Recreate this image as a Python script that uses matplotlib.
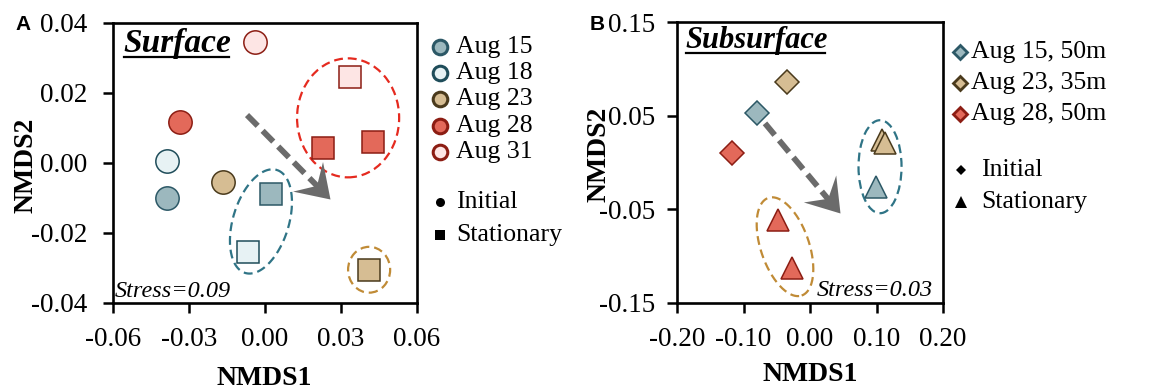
import numpy as np
import matplotlib
matplotlib.use("Agg")
import matplotlib.pyplot as plt
from matplotlib.patches import Ellipse
from matplotlib.lines import Line2D
from matplotlib.path import Path
from matplotlib.markers import MarkerStyle
from matplotlib.transforms import Affine2D

plt.rcParams['font.family'] = ['Liberation Serif', 'DejaVu Serif']
plt.rcParams['axes.unicode_minus'] = False

# ---------------- data ----------------
# Panel A: surface communities
surf_dates = ["Aug 15", "Aug 18", "Aug 23", "Aug 28", "Aug 31"]
surf_init_x = [-0.0387, -0.0387, -0.0166, -0.0336, -0.0040]
surf_init_y = [-0.0100, 0.0006, -0.0054, 0.0117, 0.0346]
# stationary samples (date index, x, y)
surf_stat_date = [0, 1, 2, 3, 3, 4]
surf_stat_x = [0.0024, -0.0067, 0.0411, 0.0229, 0.0426, 0.0336]
surf_stat_y = [-0.0089, -0.0254, -0.0305, 0.0043, 0.0060, 0.0246]

# Panel B: subsurface communities
sub_dates = ["Aug 15, 50m", "Aug 23, 35m", "Aug 28, 50m"]
sub_init_x = [-0.080, -0.035, -0.118]
sub_init_y = [0.0525, 0.0863, 0.0098]
sub_stat_date = [0, 1, 1, 2, 2]
sub_stat_x = [0.0993, 0.1078, 0.1130, -0.0486, -0.0270]
sub_stat_y = [-0.0260, 0.0240, 0.0210, -0.0610, -0.1130]

surf_ticks_x = [-0.06, -0.03, 0.00, 0.03, 0.06]
surf_ticks_y = [-0.04, -0.02, 0.00, 0.02, 0.04]
sub_ticks_x = [-0.20, -0.10, 0.00, 0.10, 0.20]
sub_ticks_y = [-0.15, -0.05, 0.05, 0.15]

surf_stress = 0.09
sub_stress = 0.03

# ---------------- styles ----------------
fills = {"Aug 15": "#9cb8be", "Aug 18": "#e7f2f4", "Aug 23": "#d6bd93",
         "Aug 28": "#e3695a", "Aug 31": "#fde5e4"}
edges = {"Aug 15": "#2c5866", "Aug 18": "#1f4d5a", "Aug 23": "#4a3a1c",
         "Aug 28": "#8c1d13", "Aug 31": "#8c1d13"}
sub_keys = ["Aug 15", "Aug 23", "Aug 28"]
BLUE_RING = "#2f7486"
RED_RING = "#e52a1f"
TAN_RING = "#c08b36"
ARROW = "#6b6b6b"

W, H = 1163, 390
fig = plt.figure(figsize=(W / 100, H / 100), dpi=100)


def fx(px):
    return px / W


def fy(py):
    return 1 - py / H


axA = fig.add_axes([fx(113), fy(303), fx(417) - fx(113), fy(23) - fy(303)])
axB = fig.add_axes([fx(677), fy(303), fx(943) - fx(677), fy(22) - fy(303)])


def style_axes(ax, xt, yt, ypad):
    ax.set_xlim(xt[0], xt[-1])
    ax.set_ylim(yt[0], yt[-1])
    ax.set_xticks(xt)
    ax.set_yticks(yt)
    ax.set_xticklabels(["%.2f" % v for v in xt])
    ax.set_yticklabels(["%.2f" % v for v in yt])
    ax.tick_params(labelsize=19.5, length=7, width=1.8, direction='out')
    ax.tick_params(axis='x', pad=10.5)
    ax.tick_params(axis='y', pad=ypad)
    for s in ax.spines.values():
        s.set_linewidth(1.9)
    ax.set_xlabel("NMDS1", fontsize=20, fontweight='bold')
    ax.set_ylabel("NMDS2", fontsize=20, fontweight='bold', va='center')


style_axes(axA, surf_ticks_x, surf_ticks_y, 11.5)
style_axes(axB, sub_ticks_x, sub_ticks_y, 9)
axA.xaxis.set_label_coords(0.497, -0.225)
axA.yaxis.set_label_coords(-0.285, 0.49)
axB.xaxis.set_label_coords(0.5, -0.21)
axB.yaxis.set_label_coords(-0.292, 0.53)


def param_ellipse(ax, c, u, v, color):
    t = np.linspace(0, 2 * np.pi, 200)
    xs = c[0] + u[0] * np.cos(t) + v[0] * np.sin(t)
    ys = c[1] + u[1] * np.cos(t) + v[1] * np.sin(t)
    ax.plot(xs, ys, color=color, lw=1.6, ls=(0, (4, 2.2)), zorder=1)


# ---- panel A ----
axA.add_patch(Ellipse((0.0328, 0.0129), 0.0403, 0.034, fill=False,
                      ec=RED_RING, lw=1.6, ls=(0, (4, 2.2)), zorder=1))
axA.add_patch(Ellipse((0.0411, -0.0305), 0.0166, 0.0131, fill=False,
                      ec=TAN_RING, lw=1.6, ls=(0, (4, 2.2)), zorder=1))
param_ellipse(axA, (-0.0016, -0.0167), (0.0063, 0.0147), (0.0105, -0.0024), BLUE_RING)

for d, x, y in zip(surf_dates, surf_init_x, surf_init_y):
    axA.plot(x, y, 'o', ms=16.8, mfc=fills[d], mec=edges[d], mew=1.1, zorder=3)
for i, x, y in zip(surf_stat_date, surf_stat_x, surf_stat_y):
    d = surf_dates[i]
    axA.plot(x, y, 's', ms=16.5, mfc=fills[d], mec=edges[d], mew=1.1, zorder=3)

# ---- panel B ----
axB.add_patch(Ellipse((0.1053, -0.0045), 0.0647, 0.0993, fill=False,
                      ec=BLUE_RING, lw=1.6, ls=(0, (4, 2.2)), zorder=1))
param_ellipse(axB, (-0.0376, -0.0899), (0.0251, -0.0521), (0.0344, 0.0083), TAN_RING)

for k, x, y in zip(sub_keys, sub_init_x, sub_init_y):
    axB.plot(x, y, 'D', ms=12.5, mfc=fills[k], mec=edges[k], mew=1.1, zorder=3)
for i, x, y in zip(sub_stat_date, sub_stat_x, sub_stat_y):
    k = sub_keys[i]
    axB.plot(x, y, '^', ms=16, mfc=fills[k], mec=edges[k], mew=1.1, zorder=3)


# ---- dashed trajectory arrows ----
HEAD = Path([(0, 0), (-1.0, 0.66), (-0.6, 0), (-1.0, -0.66), (0, 0)],
            [Path.MOVETO, Path.LINETO, Path.LINETO, Path.LINETO, Path.CLOSEPOLY])


def dashed_arrow(ax, start, end):
    p0 = ax.transData.transform(start)
    p1 = ax.transData.transform(end)
    ang = np.degrees(np.arctan2(p1[1] - p0[1], p1[0] - p0[0]))
    L = np.hypot(*(p1 - p0))
    # stop the shaft at the notch of the head
    frac = (L - 16) / L
    stop = ax.transData.inverted().transform(p0 + (p1 - p0) * frac)
    ax.plot([start[0], stop[0]], [start[1], stop[1]], color=ARROW, lw=4.2,
            ls=(0, (2.6, 1.2)), solid_capstyle='butt', dash_capstyle='butt', zorder=2)
    mk = MarkerStyle(HEAD, transform=Affine2D().rotate_deg(ang))
    ax.plot(end[0], end[1], marker=mk, ms=46, color=ARROW, mew=0, zorder=2)


dashed_arrow(axA, (-0.0071, 0.0137), (0.0257, -0.0103))
dashed_arrow(axB, (-0.0677, 0.0418), (0.0450, -0.0542))

# ---- in-panel annotations ----
tA = axA.text(0.033, 0.896, "Surface", transform=axA.transAxes, fontsize=24,
              fontweight='bold', style='italic', ha='left', va='baseline')
tB = axB.text(0.03, 0.907, "Subsurface", transform=axB.transAxes, fontsize=22,
              fontweight='bold', style='italic', ha='left', va='baseline')
axA.text(0.007, 0.022, "Stress=%.2f" % surf_stress, transform=axA.transAxes,
         fontsize=17.5, style='italic', ha='left', va='baseline')
axB.text(0.962, 0.025, "Stress=%.2f" % sub_stress, transform=axB.transAxes,
         fontsize=17.5, style='italic', ha='right', va='baseline')

fig.canvas.draw()
renderer = fig.canvas.get_renderer()
for t, ax in ((tA, axA), (tB, axB)):
    bb = t.get_window_extent(renderer)
    base = ax.transAxes.transform(t.get_position())[1]
    yline = base - 5
    a = fig.transFigure.inverted().transform([(bb.x0 + 1, yline), (bb.x1 - 2, yline)])
    fig.add_artist(Line2D(a[:, 0], a[:, 1], color='black', lw=1.6,
                          transform=fig.transFigure))

# ---- panel letters ----
fig.text(fx(15), fy(25), "A", fontsize=15, fontweight='bold',
         family=['Liberation Sans', 'DejaVu Sans'], ha='left', va='center')
fig.text(fx(590), fy(25), "B", fontsize=15, fontweight='bold',
         family=['Liberation Sans', 'DejaVu Sans'], ha='left', va='center')


# ---- legends ----
def leg_marker(px, py, marker, ms, fc, ec, mew):
    fig.add_artist(Line2D([fx(px)], [fy(py)], marker=marker, ms=ms, mfc=fc,
                          mec=ec, mew=mew, ls='none', transform=fig.transFigure))


def leg_text(px, py, s):
    fig.text(fx(px), fy(py), s, fontsize=18.5, ha='left', va='center')


rowsA = [47, 73, 99, 126, 152]
for d, py in zip(surf_dates, rowsA):
    leg_marker(440, py, 'o', 10.5, fills[d], edges[d], 2.2)
    leg_text(456, py, d)
leg_marker(440, 202, 'o', 6.5, 'black', 'black', 0)
leg_text(456, 202, "Initial")
leg_marker(440, 235, 's', 6.5, 'black', 'black', 0)
leg_text(456, 235, "Stationary")

rowsB = [52, 83, 114]
for k, lab, py in zip(sub_keys, sub_dates, rowsB):
    leg_marker(960, py, 'D', 7.2, fills[k], edges[k], 2.0)
    leg_text(971, py, lab)
leg_marker(961, 170, 'D', 5.5, 'black', 'black', 0)
leg_text(981, 170, "Initial")
leg_marker(961, 202, '^', 8, 'black', 'black', 0)
leg_text(981, 202, "Stationary")

fig.savefig("out.png", dpi=100)
